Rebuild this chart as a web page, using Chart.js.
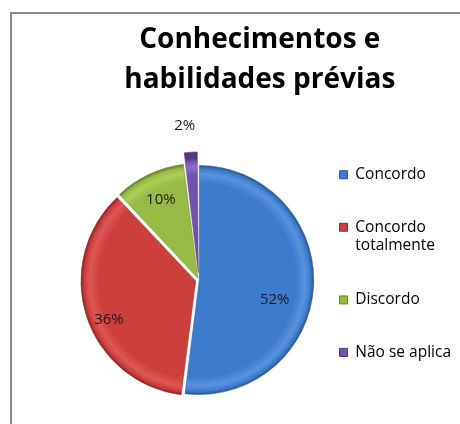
<!DOCTYPE html>
<html>
<head>
<meta charset="utf-8">
<script src="https://cdn.jsdelivr.net/npm/chart.js@4/dist/chart.umd.min.js"></script>
<style>
  html, body { margin: 0; padding: 0; background: #fff; overflow: hidden; }
  body { width: 460px; height: 424px; position: relative; }
  #frame {
    position: absolute; left: 10px; top: 12px; width: 600px; height: 600px;
    border-top: 2px solid #8a8a8a; border-left: 2px solid #8a8a8a;
  }
  #wrap { position: absolute; left: 0; top: 0; width: 480px; height: 436px; }
</style>
</head>
<body>
<div id="frame"></div>
<div id="wrap"><canvas id="pieChart" width="480" height="436"></canvas></div>
<script>
// Chart data
const categories = ["Concordo", ["Concordo", "totalmente"], "Discordo", "Não se aplica"];
const percentValues = [52, 36, 10, 2];
// trailing spaces pull the centred title a bit to the left of the legend box
const titleLines = ["Conhecimentos e     ", "habilidades prévias     "];

// Slice colours (light, base, dark)
const sliceColors = [
  ["#5a93dc", "#3d7bcd", "#2a5a98"],
  ["#de5752", "#cc403c", "#962a27"],
  ["#accd57", "#98bb45", "#6c872d"],
  ["#8f6ec4", "#7452ab", "#52377b"],
];
const sliceOffsets = [2, 13, 8, 30];
const labelDistance = [0.67, 0.75, 0.71, 1.1];
const labelAngleShift = [11, -7, 0, -2];

const PIE_RADIUS = 114;

function sliceGradient(context) {
  const chart = context.chart;
  const area = chart.chartArea;
  const c = sliceColors[context.dataIndex];
  if (!area) return c[1];
  const cx = (area.left + area.right) / 2;
  const cy = (area.top + area.bottom) / 2;
  const g = chart.ctx.createRadialGradient(cx, cy, 0, cx, cy, PIE_RADIUS);
  g.addColorStop(0, c[1]);
  g.addColorStop(0.85, c[1]);
  g.addColorStop(0.93, c[0]);
  g.addColorStop(0.975, c[1]);
  g.addColorStop(1, c[2]);
  return g;
}

// Draw percentage labels on the slices
const sliceLabels = {
  id: "sliceLabels",
  afterDatasetsDraw(chart) {
    const ctx = chart.ctx;
    const meta = chart.getDatasetMeta(0);
    ctx.save();
    ctx.font = "15px 'Open Sans'";
    ctx.fillStyle = "#1c1c1c";
    ctx.textAlign = "center";
    ctx.textBaseline = "middle";
    meta.data.forEach((arc, i) => {
      const p = arc.getProps(["x", "y", "startAngle", "endAngle", "outerRadius"], true);
      const mid = (p.startAngle + p.endAngle) / 2;
      const off = arc.options.offset || 0;
      const ox = p.x + Math.cos(mid) * off;
      const oy = p.y + Math.sin(mid) * off;
      const a = mid + (labelAngleShift[i] * Math.PI) / 180;
      const d = labelDistance[i] * p.outerRadius;
      ctx.fillText(percentValues[i] + "%", ox + Math.cos(a) * d, oy + Math.sin(a) * d);
    });
    ctx.restore();
  },
};

const pieCtx = document.getElementById("pieChart").getContext("2d");
const pieChart = new Chart(pieCtx, {
  type: "pie",
  data: {
    labels: categories,
    datasets: [
      {
        data: percentValues,
        backgroundColor: sliceGradient,
        borderColor: sliceColors.map((c) => c[2]),
        borderWidth: 0.5,
        offset: sliceOffsets,
      },
    ],
  },
  options: {
    responsive: false,
    animation: false,
    radius: PIE_RADIUS,
    layout: { padding: { left: 95, right: 19, top: 0, bottom: 6 } },
    plugins: {
      tooltip: { enabled: false },
      title: {
        display: true,
        text: titleLines,
        color: "#000",
        font: { family: "'Open Sans'", size: 28, weight: "bold", lineHeight: 1.42 },
        padding: { top: 20, bottom: 30.5 },
      },
      legend: {
        position: "right",
        fullSize: false,
        align: "start",
        labels: {
          color: "#000",
          font: { family: "'Open Sans'", size: 15.5, lineHeight: 1.15 },
          boxWidth: 8,
          boxHeight: 8,
          padding: 37,
          generateLabels(chart) {
            const items = Chart.overrides.pie.plugins.legend.labels.generateLabels(chart);
            items.forEach((it, i) => {
              it.fillStyle = sliceColors[i][1];
              it.strokeStyle = sliceColors[i][2];
              it.lineWidth = 1;
            });
            return items;
          },
        },
      },
    },
  },
  plugins: [sliceLabels],
});
</script>
</body>
</html>
